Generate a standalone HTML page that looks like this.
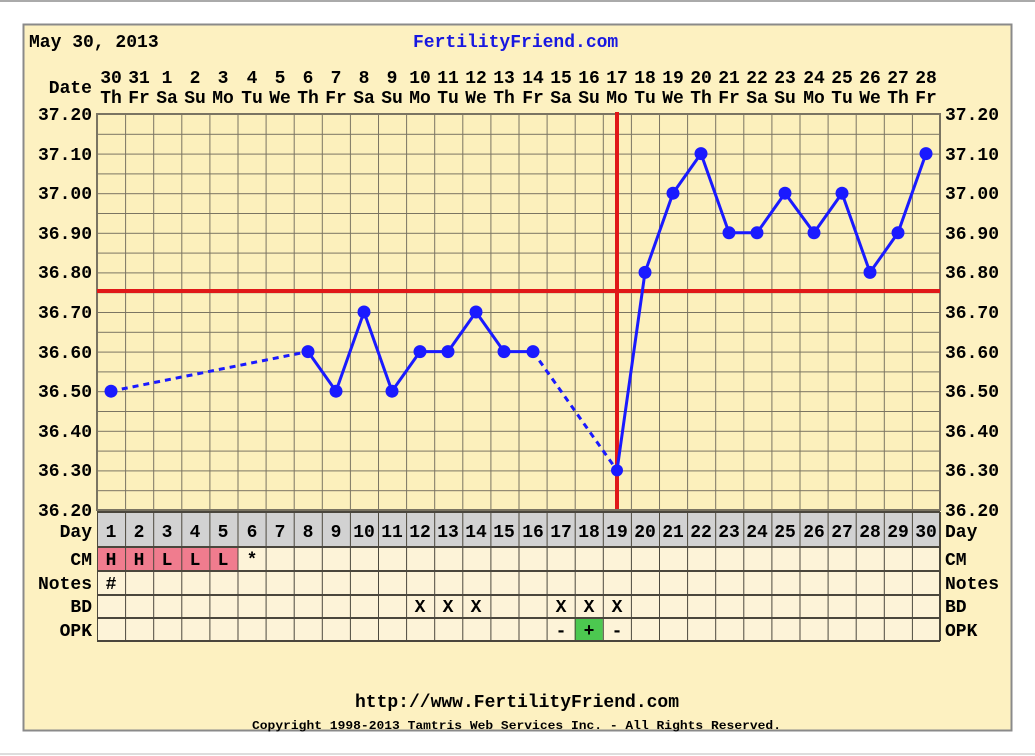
<!DOCTYPE html>
<html><head><meta charset="utf-8"><style>
html,body{margin:0;padding:0;background:#fff;}
svg{display:block;}
text{font-family:"Liberation Mono",monospace;font-weight:bold;font-size:18px;fill:#000;}
</style></head><body>
<svg width="1035" height="756" viewBox="0 0 1035 756" xmlns="http://www.w3.org/2000/svg">
<defs>
<pattern id="g" x="97" y="114" width="28.1" height="19.8" patternUnits="userSpaceOnUse">
<rect width="28.1" height="19.8" fill="#fcf0bc"/>
<path d="M0 0V19.8M0 0H28.1" stroke="#7a7462" stroke-width="2" fill="none"/>
</pattern>
<pattern id="c" x="97" y="0" width="28.1" height="10" patternUnits="userSpaceOnUse">
<path d="M0 0V10" stroke="#4a463c" stroke-width="2"/>
</pattern>
</defs>
<rect width="1035" height="756" fill="#fff"/>
<line x1="0" y1="1" x2="1035" y2="1" stroke="#aaa" stroke-width="2"/>
<line x1="0" y1="754" x2="1035" y2="754" stroke="#ddd" stroke-width="2"/>
<rect x="23.5" y="24.5" width="988" height="706" fill="#fdf1c1" stroke="#8a8a8a" stroke-width="2"/>
<text x="29" y="47">May 30, 2013</text>
<text x="413" y="47" style="fill:#1818e0">FertilityFriend.com</text>
<text x="92" y="93" text-anchor="end">Date</text>
<g text-anchor="middle">
<text x="111" y="83">30</text><text x="139" y="83">31</text><text x="167" y="83">1</text><text x="195" y="83">2</text><text x="223" y="83">3</text><text x="252" y="83">4</text><text x="280" y="83">5</text><text x="308" y="83">6</text><text x="336" y="83">7</text><text x="364" y="83">8</text><text x="392" y="83">9</text><text x="420" y="83">10</text><text x="448" y="83">11</text><text x="476" y="83">12</text><text x="504" y="83">13</text><text x="533" y="83">14</text><text x="561" y="83">15</text><text x="589" y="83">16</text><text x="617" y="83">17</text><text x="645" y="83">18</text><text x="673" y="83">19</text><text x="701" y="83">20</text><text x="729" y="83">21</text><text x="757" y="83">22</text><text x="785" y="83">23</text><text x="814" y="83">24</text><text x="842" y="83">25</text><text x="870" y="83">26</text><text x="898" y="83">27</text><text x="926" y="83">28</text>
<text x="111" y="103">Th</text><text x="139" y="103">Fr</text><text x="167" y="103">Sa</text><text x="195" y="103">Su</text><text x="223" y="103">Mo</text><text x="252" y="103">Tu</text><text x="280" y="103">We</text><text x="308" y="103">Th</text><text x="336" y="103">Fr</text><text x="364" y="103">Sa</text><text x="392" y="103">Su</text><text x="420" y="103">Mo</text><text x="448" y="103">Tu</text><text x="476" y="103">We</text><text x="504" y="103">Th</text><text x="533" y="103">Fr</text><text x="561" y="103">Sa</text><text x="589" y="103">Su</text><text x="617" y="103">Mo</text><text x="645" y="103">Tu</text><text x="673" y="103">We</text><text x="701" y="103">Th</text><text x="729" y="103">Fr</text><text x="757" y="103">Sa</text><text x="785" y="103">Su</text><text x="814" y="103">Mo</text><text x="842" y="103">Tu</text><text x="870" y="103">We</text><text x="898" y="103">Th</text><text x="926" y="103">Fr</text>
</g>
<rect x="97" y="114" width="843" height="396" fill="url(#g)"/>
<rect x="97" y="114" width="843" height="396" fill="none" stroke="#7a7462" stroke-width="2"/>
<g text-anchor="end">
<text x="92" y="120">37.20</text><text x="92" y="160">37.10</text><text x="92" y="199">37.00</text><text x="92" y="239">36.90</text><text x="92" y="278">36.80</text><text x="92" y="318">36.70</text><text x="92" y="358">36.60</text><text x="92" y="397">36.50</text><text x="92" y="437">36.40</text><text x="92" y="476">36.30</text><text x="92" y="516">36.20</text>
</g>
<g>
<text x="945" y="120">37.20</text><text x="945" y="160">37.10</text><text x="945" y="199">37.00</text><text x="945" y="239">36.90</text><text x="945" y="278">36.80</text><text x="945" y="318">36.70</text><text x="945" y="358">36.60</text><text x="945" y="397">36.50</text><text x="945" y="437">36.40</text><text x="945" y="476">36.30</text><text x="945" y="516">36.20</text>
</g>
<line x1="97" y1="291" x2="940" y2="291" stroke="#e01818" stroke-width="4"/>
<line x1="617" y1="112" x2="617" y2="509" stroke="#e01818" stroke-width="4"/>
<g stroke="#1a1aff" stroke-width="3" fill="none">
<path d="M111 391.2L308 351.6" stroke-dasharray="6,5"/>
<path d="M308 351.6L336 391.2L364 312L392 391.2L420 351.6L448 351.6L476 312L504 351.6L533 351.6"/>
<path d="M533 351.6L617 470.4" stroke-dasharray="6,5"/>
<path d="M617 470.4L645 272.4L673 193.2L701 153.6L729 232.8L757 232.8L785 193.2L814 232.8L842 193.2L870 272.4L898 232.8L926 153.6"/>
</g>
<g fill="#1a1aff">
<circle cx="111" cy="391.2" r="6.5"/><circle cx="308" cy="351.6" r="6.5"/><circle cx="336" cy="391.2" r="6.5"/><circle cx="364" cy="312" r="6.5"/><circle cx="392" cy="391.2" r="6.5"/><circle cx="420" cy="351.6" r="6.5"/><circle cx="448" cy="351.6" r="6.5"/><circle cx="476" cy="312" r="6.5"/><circle cx="504" cy="351.6" r="6.5"/><circle cx="533" cy="351.6" r="6.5"/><circle cx="617" cy="470.4" r="6"/><circle cx="645" cy="272.4" r="6.5"/><circle cx="673" cy="193.2" r="6.5"/><circle cx="701" cy="153.6" r="6.5"/><circle cx="729" cy="232.8" r="6.5"/><circle cx="757" cy="232.8" r="6.5"/><circle cx="785" cy="193.2" r="6.5"/><circle cx="814" cy="232.8" r="6.5"/><circle cx="842" cy="193.2" r="6.5"/><circle cx="870" cy="272.4" r="6.5"/><circle cx="898" cy="232.8" r="6.5"/><circle cx="926" cy="153.6" r="6.5"/>
</g>
<rect x="97" y="512" width="843" height="35" fill="#d2d2d2"/>
<rect x="97" y="547" width="843" height="94" fill="#fdf3d8"/>
<rect x="97" y="547" width="140.5" height="24" fill="#f07c8e"/>
<rect x="574.7" y="618" width="28.1" height="23" fill="#4cc850"/>
<rect x="97" y="512" width="843" height="129" fill="url(#c)"/>
<g stroke="#4a463c" stroke-width="2">
<line x1="97" y1="512" x2="940" y2="512"/><line x1="97" y1="547" x2="940" y2="547"/><line x1="97" y1="571" x2="940" y2="571"/><line x1="97" y1="595" x2="940" y2="595"/><line x1="97" y1="618" x2="940" y2="618"/><line x1="97" y1="641" x2="940" y2="641"/><line x1="940" y1="512" x2="940" y2="641"/>
</g>
<g text-anchor="middle">
<text x="111" y="537">1</text><text x="139" y="537">2</text><text x="167" y="537">3</text><text x="195" y="537">4</text><text x="223" y="537">5</text><text x="252" y="537">6</text><text x="280" y="537">7</text><text x="308" y="537">8</text><text x="336" y="537">9</text><text x="364" y="537">10</text><text x="392" y="537">11</text><text x="420" y="537">12</text><text x="448" y="537">13</text><text x="476" y="537">14</text><text x="504" y="537">15</text><text x="533" y="537">16</text><text x="561" y="537">17</text><text x="589" y="537">18</text><text x="617" y="537">19</text><text x="645" y="537">20</text><text x="673" y="537">21</text><text x="701" y="537">22</text><text x="729" y="537">23</text><text x="757" y="537">24</text><text x="785" y="537">25</text><text x="814" y="537">26</text><text x="842" y="537">27</text><text x="870" y="537">28</text><text x="898" y="537">29</text><text x="926" y="537">30</text>
<text x="111" y="565">H</text><text x="139" y="565">H</text><text x="167" y="565">L</text><text x="195" y="565">L</text><text x="223" y="565">L</text><text x="252" y="565">*</text>
<text x="111" y="589">#</text>
<g style="font-weight:normal"><text x="420" y="612">X</text><text x="448" y="612">X</text><text x="476" y="612">X</text><text x="561" y="612">X</text><text x="589" y="612">X</text><text x="617" y="612">X</text></g>
<text x="561" y="636">-</text><text x="589" y="636">+</text><text x="617" y="636">-</text>
</g>
<g text-anchor="end">
<text x="92" y="537">Day</text><text x="92" y="565">CM</text><text x="92" y="589">Notes</text><text x="92" y="612">BD</text><text x="92" y="636">OPK</text>
</g>
<g>
<text x="945" y="537">Day</text><text x="945" y="565">CM</text><text x="945" y="589">Notes</text><text x="945" y="612">BD</text><text x="945" y="636">OPK</text>
</g>
<text x="517" y="707" text-anchor="middle">http://www.FertilityFriend.com</text>
<text x="252" y="729" textLength="529" lengthAdjust="spacingAndGlyphs" style="font-size:12px">Copyright 1998-2013 Tamtris Web Services Inc. - All Rights Reserved.</text>
</svg>
</body></html>
